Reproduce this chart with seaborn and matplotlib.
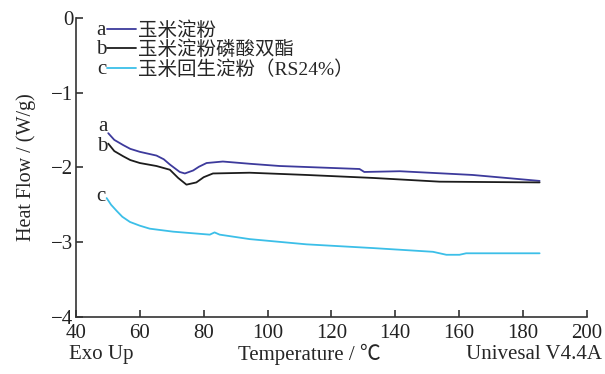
import numpy as np
import pandas as pd
import matplotlib
matplotlib.use("Agg")
import matplotlib.pyplot as plt
import seaborn as sns
from matplotlib.lines import Line2D

# ---- data ----
temp_a = [50.1, 52.0, 54.8, 57.0, 60.0, 65.2, 67.5, 69.4, 72.5, 74.1, 76.7, 78.5, 80.9, 86.0, 94.4, 103.8, 128.8, 130.3, 141.4, 164.2, 185.2]
flow_a = [-1.54, -1.63, -1.70, -1.75, -1.79, -1.84, -1.89, -1.96, -2.06, -2.08, -2.04, -1.99, -1.94, -1.92, -1.95, -1.98, -2.02, -2.06, -2.05, -2.10, -2.18]

temp_b = [50.1, 52.0, 54.8, 57.0, 60.0, 65.2, 69.4, 72.0, 74.6, 77.7, 80.0, 82.9, 94.4, 112.2, 133.0, 153.9, 185.2]
flow_b = [-1.68, -1.78, -1.85, -1.90, -1.94, -1.98, -2.03, -2.14, -2.23, -2.20, -2.13, -2.08, -2.07, -2.10, -2.14, -2.19, -2.20]

temp_c = [49.6, 51.0, 52.7, 54.5, 56.9, 60.0, 63.1, 70.4, 81.9, 83.4, 85.0, 94.4, 112.2, 133.0, 151.8, 156.0, 160.1, 162.2, 185.2]
flow_c = [-2.41, -2.50, -2.58, -2.66, -2.73, -2.78, -2.82, -2.86, -2.90, -2.87, -2.90, -2.96, -3.03, -3.08, -3.13, -3.17, -3.17, -3.15, -3.15]

series_keys = ["a", "b", "c"]
series_names = ["玉米淀粉", "玉米淀粉磷酸双酯", "玉米回生淀粉（RS24%）"]
series_colors = ["#3d3a9c", "#1c1c1c", "#3cbfe8"]

x_ticks = [40, 60, 80, 100, 120, 140, 160, 180, 200]
y_ticks = [0, -1, -2, -3, -4]
y_tick_labels = ["0", "\u22121", "\u22122", "\u22123", "\u22124"]

df = pd.concat([
    pd.DataFrame({"T": temp_a, "HF": flow_a, "s": "a"}),
    pd.DataFrame({"T": temp_b, "HF": flow_b, "s": "b"}),
    pd.DataFrame({"T": temp_c, "HF": flow_c, "s": "c"}),
], ignore_index=True)

sns.set_style("ticks")
serif = ["Liberation Serif", "Noto Sans CJK SC", "DejaVu Sans"]
plt.rcParams["font.family"] = serif
plt.rcParams["axes.unicode_minus"] = True

FS = 15
fig = plt.figure(figsize=(6.05, 3.74), dpi=100)
ax = fig.add_axes([0.1256, 0.1532, 0.8444, 0.7979])

sns.lineplot(data=df, x="T", y="HF", hue="s", palette=dict(zip(series_keys, series_colors)),
             sort=False, legend=False, ax=ax, linewidth=1.3, estimator=None)

ax.set_xlim(40, 200)
ax.set_ylim(-4, 0)
ax.set_xticks(x_ticks)
ax.set_xticklabels([str(t) for t in x_ticks])
ax.set_yticks(y_ticks)
ax.set_yticklabels(y_tick_labels)
ax.tick_params(direction="in", length=5, width=1.1, labelsize=FS, colors="#222222")
ax.tick_params(axis="x", pad=5.5)
ax.tick_params(axis="y", pad=2)
for side in ["top", "right"]:
    ax.spines[side].set_visible(False)
for side in ["left", "bottom"]:
    ax.spines[side].set_linewidth(1.2)
    ax.spines[side].set_color("#333333")

ax.set_xlabel("")
ax.set_ylabel("Heat Flow / (W/g)", fontsize=14.5, labelpad=11)

# bottom caption row
fig.text(0.114, 0.052, "Exo Up", fontsize=FS, ha="left", va="center")
fig.text(0.511, 0.052, "Temperature / ℃", fontsize=FS, ha="center", va="center")
fig.text(0.995, 0.052, "Univesal V4.4A", fontsize=FS, ha="right", va="center")

# curve labels
for key, xs, ys in zip(series_keys, [temp_a, temp_b, temp_c], [flow_a, flow_b, flow_c]):
    dy = {"a": 4.5, "b": -2.0, "c": 1.0}[key]
    ax.annotate(key, xy=(xs[0], ys[0]), xytext=(-0.5, dy), textcoords="offset points",
                fontsize=FS, ha="right", va="center")

# legend
handles = [Line2D([], [], color=c, lw=1.3) for c in series_colors]
leg = ax.legend(handles, series_names, loc="upper left", bbox_to_anchor=(0.037, 1.03),
                frameon=False, fontsize=14, handlelength=1.5, handletextpad=0.1,
                labelspacing=0.05, borderaxespad=0.2)
fig.canvas.draw()
for key, txt, h in zip(series_keys, leg.get_texts(), leg.legend_handles):
    bb = txt.get_window_extent()
    hb = h.get_window_extent()
    ycen = (bb.y0 + bb.y1) / 2
    xf, yf = fig.transFigure.inverted().transform((hb.x0 - 0.5, ycen))
    fig.text(xf, yf, key, fontsize=FS, ha="right", va="center")

fig.savefig("out.png", dpi=100)
